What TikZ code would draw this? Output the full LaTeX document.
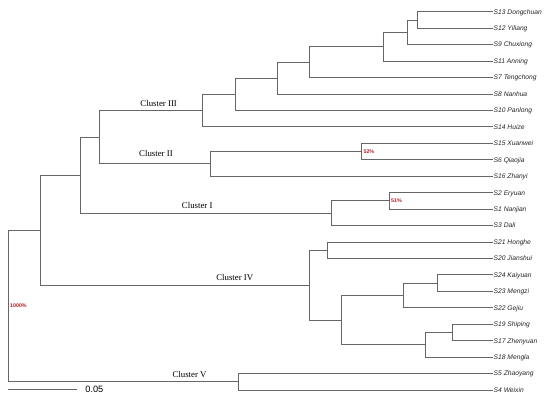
\documentclass[tikz,border=0pt]{standalone}
\usepackage{fontspec}
\setmainfont{Liberation Serif}
\newfontfamily\arialfont{Liberation Sans}
\usetikzlibrary{positioning}

\begin{document}
\begin{tikzpicture}[x=1pt,y=-1pt,-,line width=0.8pt,draw=black!60]
  \tikzstyle{rama}=[draw=black!60,
                    to path={|- (\tikztotarget) \tikztonodes}]
  \tikzstyle{hoja}=[anchor=west,inner sep=0pt,
                    text height=4.8pt,text depth=0pt,
                    text=black!85,
                    font=\arialfont\itshape\fontsize{6.7}{7}\selectfont]
  \tikzstyle{cluster}=[inner sep=0pt,above=4pt,
                    font=\fontsize{8.8}{9}\selectfont]
  \tikzstyle{soporte}=[anchor=west,inner sep=1.5pt,
                    text={rgb,255:red,190;green,30;blue,30},
                    font=\arialfont\bfseries\fontsize{5.3}{6}\selectfont]
  \useasboundingbox (0,0) rectangle (550,401);
  %Hojas
  \foreach \id/\txt [count=\i from 0] in {s13/S13 Dongchuan,s12/S12 Yiliang,
      s9/S9 Chuxiong,s11/S11 Anning,s7/S7 Tengchong,s8/S8 Nanhua,
      s10/S10 Panlong,s14/S14 Huize,s15/S15 Xuanwei,s6/S6 Qiaojia,
      s16/S16 Zhanyi,s2/S2 Eryuan,s1/S1 Nanjian,s3/S3 Dali,
      s21/S21 Honghe,s20/S20 Jianshui,s24/S24 Kaiyuan,s23/S23 Mengzi,
      s22/S22 Gejiu,s19/S19 Shiping,s17/S17 Zhenyuan,s18/S18 Mengla,
      s5/S5 Zhaoyang,s4/S4 Weixin}
    \node[hoja] (\id) at (493.3,11.7+16.45*\i) {\txt};
  %Nodos internos
  \coordinate (a1) at (417,19.93);
  \coordinate (a2) at (407,32.26);
  \coordinate (a3) at (383,46.66);
  \coordinate (a4) at (309,62.08);
  \coordinate (a5) at (277,78.02);
  \coordinate (a6) at (235,94.21);
  \coordinate (c3) at (202,110.53);
  \coordinate (b1) at (361.7,151.53);
  \coordinate (c2) at (210,163.86);
  \coordinate (d1) at (99.3,137.2);
  \coordinate (e1) at (389.3,200.88);
  \coordinate (c1) at (331.3,213.21);
  \coordinate (d2) at (80.3,175.21);
  \coordinate (f1) at (327.7,250.23);
  \coordinate (f2) at (437.7,283.13);
  \coordinate (f3) at (403.3,295.46);
  \coordinate (f4) at (452.3,332.48);
  \coordinate (f5) at (425,344.81);
  \coordinate (f6) at (341,320.14);
  \coordinate (c4) at (309,285.18);
  \coordinate (d3) at (40,230.2);
  \coordinate (c5) at (238.3,381.83);
  \coordinate (root) at (8.3,306.01);
  %Ramas
  \path (a1) edge[rama] (s13.west)
        (a1) edge[rama] (s12.west)
        (a2) edge[rama] (a1)
        (a2) edge[rama] (s9.west)
        (a3) edge[rama] (a2)
        (a3) edge[rama] (s11.west)
        (a4) edge[rama] (a3)
        (a4) edge[rama] (s7.west)
        (a5) edge[rama] (a4)
        (a5) edge[rama] (s8.west)
        (a6) edge[rama] (a5)
        (a6) edge[rama] (s10.west)
        (c3) edge[rama] (a6)
        (c3) edge[rama] (s14.west)
        (b1) edge[rama] (s15.west)
        (b1) edge[rama] (s6.west)
        (c2) edge[rama] (b1)
        (c2) edge[rama] (s16.west)
        (d1) edge[rama] node[cluster,pos=0.789] {Cluster III} (c3)
        (d1) edge[rama] node[cluster,pos=0.756,above=7pt] {Cluster II} (c2)
        (e1) edge[rama] (s2.west)
        (e1) edge[rama] (s1.west)
        (c1) edge[rama] (e1)
        (c1) edge[rama] (s3.west)
        (d2) edge[rama] (d1)
        (d2) edge[rama] node[cluster,pos=0.733] {Cluster I} (c1)
        (f1) edge[rama] (s21.west)
        (f1) edge[rama] (s20.west)
        (f2) edge[rama] (s24.west)
        (f2) edge[rama] (s23.west)
        (f3) edge[rama] (f2)
        (f3) edge[rama] (s22.west)
        (f4) edge[rama] (s19.west)
        (f4) edge[rama] (s17.west)
        (f5) edge[rama] (f4)
        (f5) edge[rama] (s18.west)
        (f6) edge[rama] (f3)
        (f6) edge[rama] (f5)
        (c4) edge[rama] (f1)
        (c4) edge[rama] (f6)
        (d3) edge[rama] (d2)
        (d3) edge[rama] node[cluster,pos=0.862] {Cluster IV} (c4)
        (c5) edge[rama] (s5.west)
        (c5) edge[rama] (s4.west)
        (root) edge[rama] (d3)
        (root) edge[rama] node[cluster,pos=0.894] {Cluster V} (c5);
  %Soporte
  \node[soporte] (p52) at (b1) {52\%};
  \node[soporte] (p51) at (e1) {51\%};
  \node[soporte] (p1000) at (root) {1000\%};
  %Escala
  \coordinate (sb0) at (8.3,389.3);
  \coordinate (sb1) at (76.7,389.3);
  \draw (sb0) -- (sb1);
  \node[inner sep=0pt,right=8.3pt of sb1,
        font=\arialfont\fontsize{9.2}{10}\selectfont] (escala) {0.05};
\end{tikzpicture}
\end{document}
